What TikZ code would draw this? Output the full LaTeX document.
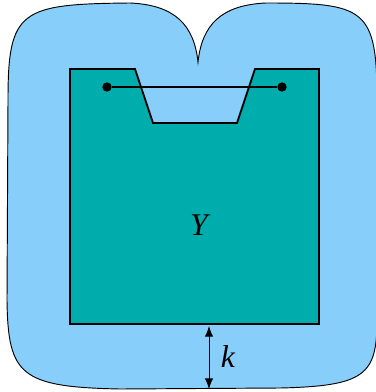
\documentclass[tikz,border=0pt]{standalone}
\usepackage{fontspec}
\setmainfont{Liberation Serif}
\definecolor{regionblue}{RGB}{135,206,250}
\definecolor{setteal}{RGB}{0,173,173}
\usetikzlibrary{arrows.meta}

\begin{document}
\begin{tikzpicture}[x=0.03cm, y=-0.03cm,
    outline/.style={draw=black, line width=0.8pt, fill=regionblue},
    setshape/.style={draw=black, line width=1.6pt, fill=setteal, line join=miter},
    dot/.style={circle, fill=black, inner sep=0pt, minimum size=8pt},
    gaparrow/.style={draw=black, line width=0.7pt, {Latex[length=9pt,width=7pt]}-{Latex[length=9pt,width=7pt]}},
    bigfont/.style={font=\fontsize{27}{32}\selectfont\itshape}
  ]
    \useasboundingbox (0,0) rectangle (376,392);

    % outer region with the notch on top
    \path[outline] (198,62) .. controls (194,25) and (175,5) .. (130,3)
      .. controls (20,4) and (8,10) .. (8,100)
      -- (7,300) .. controls (8,375) and (20,387) .. (120,389)
      -- (280,388) .. controls (365,386) and (377,375) .. (377,320)
      -- (377,100) .. controls (377,8) and (365,3) .. (266,3)
      .. controls (221,5) and (202,25) .. (198,62) -- cycle;

    % the set Y
    \path[setshape] (70,69) -- (135,69) -- (153,123) -- (237,123) -- (255,69)
      -- (319,69) -- (319,324) -- (70,324) -- cycle;

    \node[dot] (left) at (107,87) {};
    \node[dot] (right) at (282,87) {};
    \draw[line width=1.6pt] (left) -- (right);

    \node[bigfont] (ylabel) at (199,225) {Y};

    % distance k
    \coordinate (gaptop) at (209,326);
    \coordinate (gapbot) at (209,389);
    \draw[gaparrow] (gaptop) -- (gapbot);
    \node[bigfont] (klabel) at (228,357) {k};
  \end{tikzpicture}
\end{document}
